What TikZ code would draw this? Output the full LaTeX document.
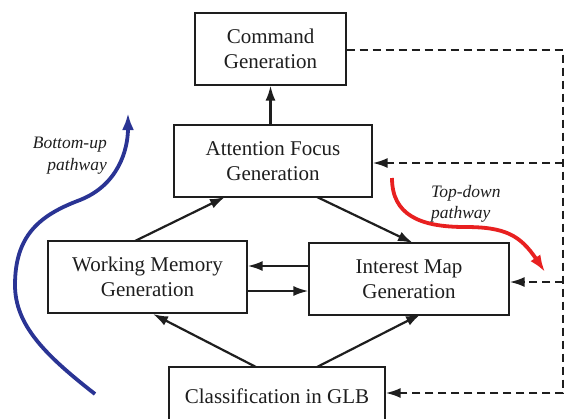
\documentclass[tikz,border=0pt]{standalone}
\usepackage{fontspec}
\setmainfont{Liberation Serif}
\usetikzlibrary{arrows.meta}
\definecolor{pathblue}{RGB}{42,52,148}
\definecolor{pathred}{RGB}{232,32,32}
\definecolor{ink}{RGB}{30,30,30}
\tikzset{
  block/.style={draw=ink, line width=1.2pt, align=center, inner sep=0pt,
    font=\fontsize{21}{24.5}\selectfont, text=ink},
  flow/.style={draw=ink, line width=2.2pt, -{Latex[length=15pt,width=10pt]}},
  feedback/.style={draw=ink, line width=2.2pt, dash pattern=on 8pt off 5pt,
    -{Latex[length=15pt,width=10pt]}},
  pathlabel/.style={font=\fontsize{17.5}{21}\itshape, text=ink, inner sep=0pt},
  pathway/.style={line width=3.8pt, -{Latex[length=17pt,width=12pt]}}
}
\begin{document}
\begin{tikzpicture}[x=1pt,y=-1pt]
\useasboundingbox (0,0) rectangle (564,418);

% processing blocks
\node[block, minimum width=151pt, minimum height=72pt] (cmd) at (270.5,49) {Command\\Generation};
\node[block, minimum width=198pt, minimum height=72pt] (att) at (273,161) {Attention Focus\\Generation};
\node[block, minimum width=199pt, minimum height=72pt] (wm) at (147.5,277) {Working Memory\\Generation};
\node[block, minimum width=200pt, minimum height=72pt] (im) at (409,279) {Interest Map\\Generation};
\node[block, minimum width=216pt, minimum height=58pt, text depth=0pt] (cls) at (277,396) {Classification in GLB};

% forward connections
\draw[flow] (att.north -| cmd.south) -- (cmd.south);
\draw[flow] (135,241) coordinate (wmA) -- (225,197) coordinate (attA);
\draw[flow] (317,197) coordinate (attB) -- (413,243) coordinate (imA);
\draw[flow] (im.west |- 0,266) -- (wm.east |- 0,266);
\draw[flow] (wm.east |- 0,291) -- (im.west |- 0,291);
\draw[flow] (256,367) coordinate (clsA) -- (153,314) coordinate (wmB);
\draw[flow] (317,367) coordinate (clsB) -- (421,314) coordinate (imB);

% feedback from command generation
\coordinate (rt) at (563,50);
\coordinate (rb) at (563,393);
\draw[feedback] (cmd.east |- rt) -- (rt) -- (rb) -- (cls.east |- rb);
\draw[feedback] (563,163) -- (att.east |- 0,163);
\draw[feedback] (563,282) -- (im.east |- 0,282);

% pathways
\draw[pathway, draw=pathblue]
  (95,394) .. controls (45,355) and (15,325) .. (15,285)
  .. controls (15,235) and (40,215) .. (80,200)
  .. controls (118,185) and (128,150) .. (128,113);
\node[pathlabel, anchor=base east] at (107,148) {Bottom-up};
\node[pathlabel, anchor=base east] at (107,170) {pathway};

\draw[pathway, draw=pathred]
  (392,178) .. controls (392,215) and (420,227) .. (465,227)
  .. controls (505,227) and (520,235) .. (545,272);
\node[pathlabel, anchor=base west] at (431,197) {Top-down};
\node[pathlabel, anchor=base west] at (431,218) {pathway};
\end{tikzpicture}
\end{document}
